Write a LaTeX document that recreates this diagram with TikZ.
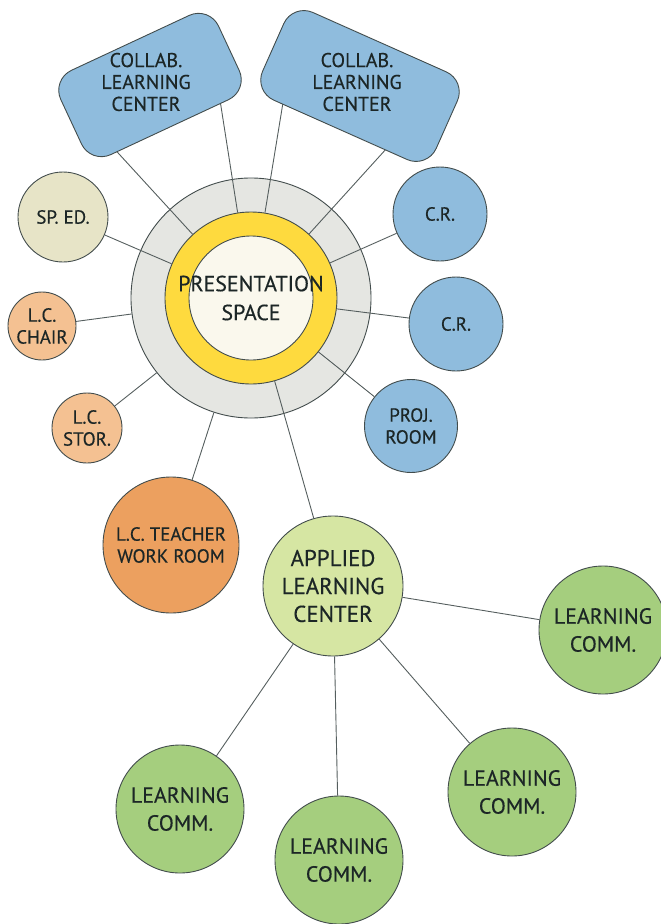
\documentclass[tikz,border=0pt]{standalone}
\usepackage{fontspec}
\setmainfont{PT Sans}[BoldFont={*}, BoldFeatures={FakeBold=0.4}]
\usepackage{tikz}
\usetikzlibrary{positioning,calc}
\definecolor{cblue}{RGB}{143,188,221}
\definecolor{cbeige}{RGB}{231,228,199}
\definecolor{cpeach}{RGB}{244,193,146}
\definecolor{corange}{RGB}{236,160,95}
\definecolor{clime}{RGB}{214,230,163}
\definecolor{cgreen}{RGB}{165,206,126}
\definecolor{cring}{RGB}{229,230,226}
\definecolor{cyellow}{RGB}{254,218,62}
\definecolor{ccream}{RGB}{250,248,237}
\definecolor{cedge}{RGB}{66,76,76}
\definecolor{cink}{RGB}{28,38,38}
\tikzset{room/.style={circle, draw=cedge, line width=0.9pt, inner sep=0pt, align=center, text=cink, font=\bfseries\fontsize{19}{22}\selectfont}}
\tikzset{commroom/.style={room, fill=cgreen, minimum size=128bp, font=\bfseries\fontsize{22}{28}\selectfont}}
\tikzset{collab/.style={rectangle, rounded corners=22bp, draw=cedge, line width=0.9pt, fill=cblue}}
\tikzset{lbl/.style={align=center, text=cink, inner sep=0pt}}
\tikzset{link/.style={draw=cedge!90, line width=0.9pt}}

\begin{document}
\begin{tikzpicture}[x=1bp, y=1bp]
    \clip (0,0) rectangle (661,-924);
    % presentation core
    \node[room, fill=cring, minimum size=240bp] (G) at (251,-298) {};
    \node[room, fill=cyellow, minimum size=172bp] (Y) at (G) {};
    \node[room, fill=ccream, minimum size=124bp] (W) at (G) {};
    \node[lbl, font=\bfseries\fontsize{22}{29}\selectfont] (PS) at (W) {PRESENTATION\\SPACE};

    % rooms round the core
    \node[room, fill=cbeige, minimum size=90bp] (SPED) at (63,-217) {SP. ED.};
    \node[room, fill=cpeach, minimum size=68bp] (CHAIR) at (42,-326) {L.C.\\CHAIR};
    \node[room, fill=cpeach, minimum size=70bp] (STOR) at (87,-428) {L.C.\\STOR.};
    \node[room, fill=corange, minimum size=136bp] (TEACH) at (171,-545) {L.C. TEACHER\\WORK ROOM};
    \node[room, fill=cblue, minimum size=94bp] (CRa) at (440,-214) {C.R.};
    \node[room, fill=cblue, minimum size=94bp] (CRb) at (456,-324) {C.R.};
    \node[room, fill=cblue, minimum size=93bp] (PROJ) at (411,-426) {PROJ.\\ROOM};
    \node[room, fill=clime, minimum size=140bp, font=\bfseries\fontsize{23}{28}\selectfont] (APL) at (333,-586) {APPLIED\\LEARNING\\CENTER};

    % learning communities
    \node[commroom] (LCa) at (603,-630) {LEARNING\\COMM.};
    \node[commroom] (LCb) at (512,-792) {LEARNING\\COMM.};
    \node[commroom] (LCc) at (339,-860) {LEARNING\\COMM.};
    \node[commroom] (LCd) at (180,-809) {LEARNING\\COMM.};

    \draw[link] (SPED) -- (Y);
    \draw[link] (CRa) -- (Y);
    \draw[link] (CRb) -- (Y);
    \draw[link] (PROJ) -- (Y);
    \draw[link] (APL) -- (Y);
    \draw[link] (CHAIR) -- (G);
    \draw[link] (STOR) -- (G);
    \draw[link] (TEACH) -- (G);
    \foreach \lc in {LCa, LCb, LCc, LCd}
        \draw[link] (APL) -- (\lc);

    % collab. spokes run under the boxes
    \coordinate (CLa-1) at ($(G)+(132.5:215)$);
    \coordinate (CLa-2) at ($(G)+(98.9:220)$);
    \coordinate (CLb-1) at ($(G)+(80.7:215)$);
    \coordinate (CLb-2) at ($(G)+(47.8:220)$);
    \foreach \cl in {CLa-1, CLa-2, CLb-1, CLb-2}
        \draw[link] (Y) -- (\cl);

    \node[collab, rotate=25, minimum width=174bp, minimum height=93bp] (CLa) at (150,-85) {};
    \node[collab, rotate=-24, minimum width=190bp, minimum height=96bp] (CLb) at (360,-86) {};
    \node[lbl, font=\bfseries\fontsize{20}{22}\selectfont] (CLaT) at (146,-82) {COLLAB.\\LEARNING\\CENTER};
    \node[lbl, font=\bfseries\fontsize{20}{22}\selectfont] (CLbT) at (357,-82) {COLLAB.\\LEARNING\\CENTER};
\end{tikzpicture}
\end{document}
